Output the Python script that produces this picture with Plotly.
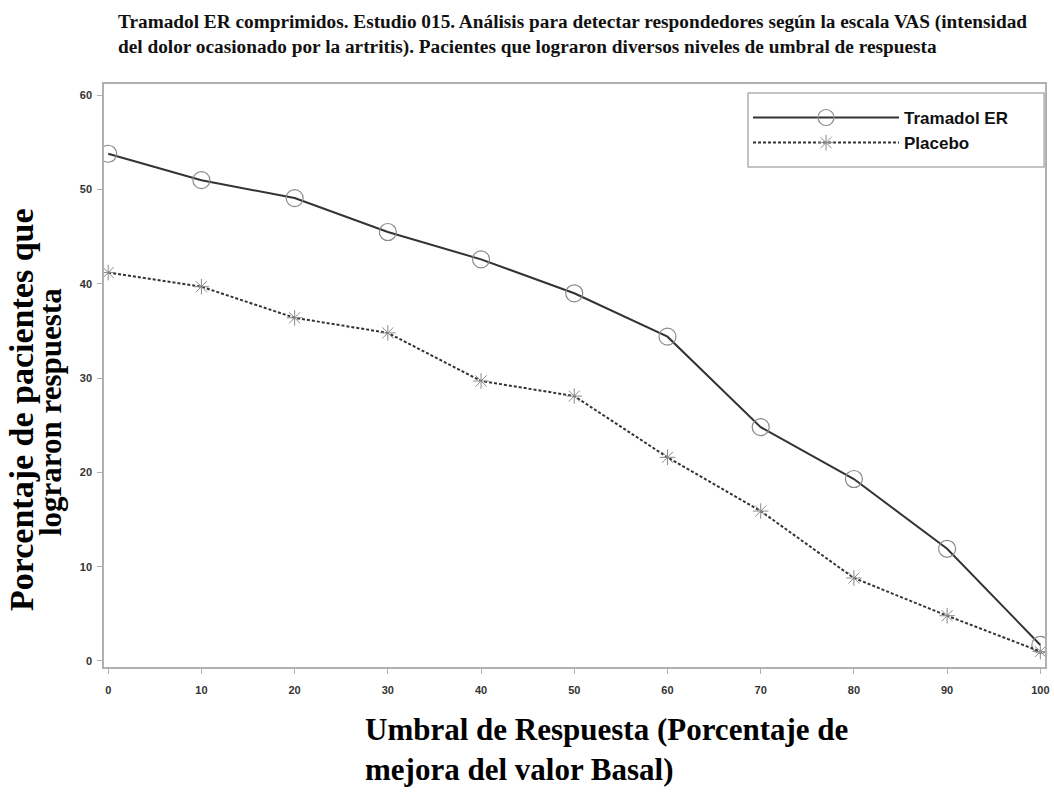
import plotly.graph_objects as go

thresholds = [0, 10, 20, 30, 40, 50, 60, 70, 80, 90, 100]
tramadol_er = [53.8, 51.0, 49.1, 45.5, 42.6, 39.0, 34.4, 24.8, 19.3, 11.9, 1.7]
placebo = [41.2, 39.7, 36.4, 34.8, 29.7, 28.1, 21.6, 15.9, 8.8, 4.8, 1.0]
series_names = ["Tramadol ER", "Placebo"]
x_ticks = [0, 10, 20, 30, 40, 50, 60, 70, 80, 90, 100]
y_ticks = [0, 10, 20, 30, 40, 50, 60]

title_text = ("Tramadol ER comprimidos. Estudio 015. Análisis para detectar respondedores según la escala VAS (intensidad<br>"
              "del dolor ocasionado por la artritis). Pacientes que lograron diversos niveles de umbral de respuesta")
y_title_lines = ["Porcentaje de pacientes que", "lograron respuesta"]
x_title = "Umbral de Respuesta (Porcentaje de<br>mejora del valor Basal)"

fig = go.Figure()
fig.add_trace(go.Scatter(
    x=thresholds, y=tramadol_er, name=series_names[0], mode="lines+markers",
    line=dict(color="#333333", width=2),
    marker=dict(symbol="circle-open", size=17, color="#8a8a8a", line=dict(width=1.2, color="#8a8a8a")),
))
fig.add_trace(go.Scatter(
    x=thresholds, y=placebo, name=series_names[1], mode="lines+markers",
    line=dict(color="#333333", width=2, dash="3px,2px"),
    marker=dict(symbol="asterisk-open", size=13, color="#8a8a8a", line=dict(width=1, color="#8a8a8a")),
))

axis_common = dict(
    showline=True, linecolor="#b0b0b0", linewidth=1.5, mirror=True,
    ticks="outside", ticklen=5, tickcolor="#b0b0b0", showgrid=False, zeroline=False,
    automargin=False,
    tickfont=dict(family="Arial", size=11, color="#333333", weight="bold"),
)
fig.update_xaxes(range=[-0.45, 100.5], tickvals=x_ticks, ticklabelstandoff=7, **axis_common)
fig.update_yaxes(range=[-0.64, 61.2], tickvals=y_ticks, ticklabelstandoff=3, **axis_common)

fig.update_layout(
    width=1054, height=803,
    margin=dict(l=104, r=9, t=84, b=136),
    paper_bgcolor="white", plot_bgcolor="white",
    showlegend=True,
    legend=dict(
        x=0.6844, y=0.9726, xanchor="left", yanchor="top",
        bgcolor="rgba(0,0,0,0)", borderwidth=0,
        itemwidth=146, tracegroupgap=0,
        font=dict(family="Arial", size=17, color="#111111", weight="bold"),
    ),
    shapes=[dict(type="rect", xref="paper", yref="paper",
                 x0=0.6844, x1=0.999, y0=0.8576, y1=0.9846,
                 line=dict(color="#b0b0b0", width=1.5))],
    annotations=[
        dict(text=title_text, xref="paper", yref="paper", x=(116 - 104) / 941, y=1.1286,
             xanchor="left", yanchor="top", align="left", showarrow=False,
             font=dict(family="Liberation Serif", size=19.3, color="#111111", weight="bold")),
        dict(text=y_title_lines[0], xref="paper", yref="paper", x=(21 - 104) / 941, y=(667 - 410) / 583,
             xanchor="center", yanchor="middle", textangle=-90, showarrow=False,
             font=dict(family="Liberation Serif", size=34, color="black", weight="bold")),
        dict(text=y_title_lines[1], xref="paper", yref="paper", x=(50 - 104) / 941, y=(667 - 412) / 583,
             xanchor="center", yanchor="middle", textangle=-90, showarrow=False,
             font=dict(family="Liberation Serif", size=31, color="black", weight="bold")),
        dict(text=x_title, xref="paper", yref="paper", x=(363 - 104) / 941, y=-0.0738,
             xanchor="left", yanchor="top", align="left", showarrow=False,
             font=dict(family="Liberation Serif", size=31, color="black", weight="bold")),
    ],
)

fig.write_html("out.html", config={"displayModeBar": False},
               post_script="document.body.style.margin='0';")
